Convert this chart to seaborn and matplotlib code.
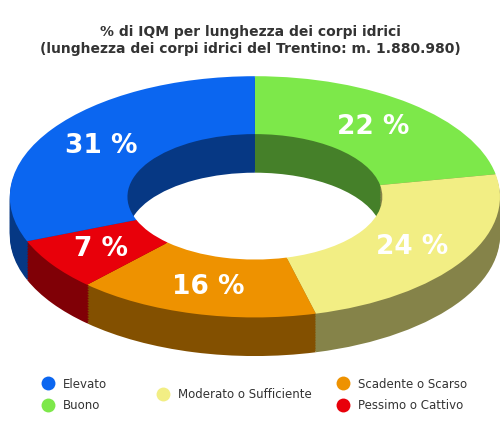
import matplotlib
matplotlib.use("Agg")
import matplotlib.pyplot as plt
import seaborn as sns
import numpy as np
from matplotlib.lines import Line2D
from matplotlib.colors import to_rgb

sns.set_theme(style="white")
plt.rcParams['font.family'] = ['DejaVu Sans']

categories = ["Buono", "Moderato o Sufficiente", "Scadente o Scarso", "Pessimo o Cattivo", "Elevato"]
values = [22, 24, 16, 7, 31]
colors = ["#7de84a", "#f2ee84", "#ee9200", "#e8000a", "#0b66f0"]
legend_order = ["Elevato", "Buono", "Moderato o Sufficiente", "Scadente o Scarso", "Pessimo o Cattivo"]

fig = plt.figure(figsize=(5, 4.27), dpi=100)
ax = fig.add_axes([0, 0, 1, 1])

depth = 0.32
n = 24
for i in range(n, 0, -1):
    off = -depth * i / n
    dark = [tuple(np.array(to_rgb(c)) * 0.55) for c in colors]
    ax.pie(values, colors=dark, startangle=90, counterclock=False, center=(0, off),
           radius=1.0, wedgeprops=dict(width=0.48, linewidth=0), frame=True)
wedges, texts, autotexts = ax.pie(values, colors=colors, startangle=90, counterclock=False,
                                  radius=1.0, wedgeprops=dict(width=0.48, linewidth=0),
                                  autopct=lambda p: f"{p:.0f} %", pctdistance=0.76, frame=True)
for t in autotexts:
    t.set_color("white"); t.set_fontsize(19); t.set_fontweight("bold")

ax.set_aspect("auto")
ax.set_xlim(-1.04, 1.0)
ax.set_ylim(-1.90, 1.64)
ax.axis("off")

fig.text(0.5, 0.905, "% di IQM per lunghezza dei corpi idrici\n(lunghezza dei corpi idrici del Trentino: m. 1.880.980)",
         ha="center", va="center", fontsize=10, fontweight="bold", color="#333333", linespacing=1.2)

cmap = dict(zip(categories, colors))
positions = {"Elevato": (0.095, 0.10), "Buono": (0.095, 0.05), "Moderato o Sufficiente": (0.325, 0.075),
             "Scadente o Scarso": (0.685, 0.10), "Pessimo o Cattivo": (0.685, 0.05)}
for c in legend_order:
    x, y = positions[c]
    fig.add_artist(Line2D([x], [y], marker="o", ls="", markersize=10, markerfacecolor=cmap[c],
                          markeredgewidth=0, transform=fig.transFigure))
    fig.text(x + 0.03, y, c, va="center", ha="left", fontsize=8.5, color="#333333")

fig.savefig("out.png", dpi=100)
